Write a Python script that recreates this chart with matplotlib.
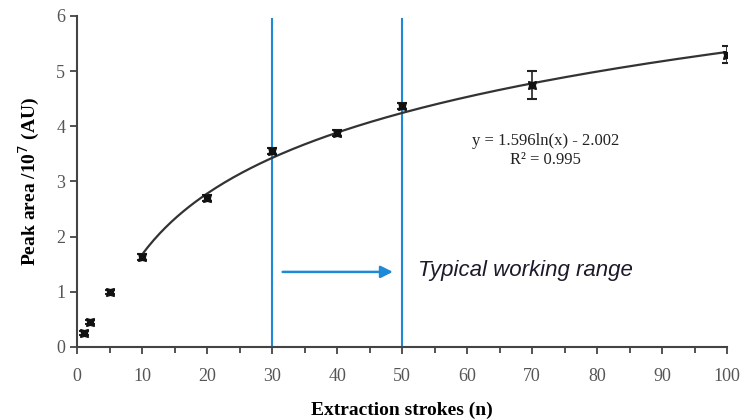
import numpy as np
import matplotlib.pyplot as plt

# extraction strokes vs mean peak area (x10^7 AU)
strokes = [1, 2, 5, 10, 20, 30, 40, 50, 70, 100]
peak_area = [0.25, 0.45, 1.0, 1.63, 2.7, 3.55, 3.88, 4.37, 4.75, 5.3]
peak_err = [0.04, 0.04, 0.04, 0.05, 0.05, 0.05, 0.05, 0.06, 0.25, 0.15]

# log fit over 10..100 strokes
fit_a = 1.596
fit_b = -2.002
fit_r2 = 0.995

range_lo, range_hi = 30, 50

plt.rcParams['font.family'] = 'Liberation Serif'
fig = plt.figure(figsize=(7.44, 4.2), dpi=100)
ax = fig.add_axes([0.1035, 0.174, 0.874, 0.788])

xf = np.linspace(10, 100, 200)
ax.plot(xf, fit_a*np.log(xf) + fit_b, color='#333333', lw=1.6, zorder=2)

ax.errorbar(strokes, peak_area, yerr=peak_err, fmt='none', ecolor='#222222',
            elinewidth=1.2, capsize=3.5, capthick=1.5, zorder=3)
ax.plot(strokes, peak_area, ls='none', marker=(4, 1, 45), ms=8,
        color='#111111', zorder=4)

blue = '#1e8ad6'
for xv in (range_lo, range_hi):
    ax.plot([xv, xv], [0, 5.95], color=blue, lw=1.5, zorder=1)

ax.annotate('', xy=(range_hi - 1.0, 1.36), xytext=(range_lo + 1.2, 1.36),
            arrowprops=dict(arrowstyle='-|>', color=blue, lw=1.8,
                            mutation_scale=18))
ax.text(52.5, 1.38, 'Typical working range', fontsize=16, style='italic',
        family='Liberation Sans', color='#1a1a2a', va='center', ha='left')

ax.text(72, 3.73, 'y = %.3fln(x) - %.3f' % (fit_a, -fit_b), fontsize=12,
        ha='center', va='center', color='#222222')
ax.text(72, 3.38, 'R² = %.3f' % fit_r2, fontsize=12, ha='center',
        va='center', color='#222222')

ax.set_xlim(0, 100)
ax.set_ylim(0, 6)
ax.set_xticks(range(0, 101, 10))
ax.set_xticks(range(5, 100, 10), minor=True)
ax.set_yticks(range(0, 7))
ax.spines['top'].set_visible(False)
ax.spines['right'].set_visible(False)
for s in ('left', 'bottom'):
    ax.spines[s].set_color('#444444')
    ax.spines[s].set_linewidth(1.5)
ax.tick_params(which='both', direction='out', color='#444444', width=1.3,
               labelsize=13, labelcolor='#555555')
ax.tick_params(which='major', length=5)
ax.tick_params(which='minor', length=4)
ax.tick_params(axis='x', pad=10)

ax.set_xlabel('Extraction strokes (n)', fontsize=14, fontweight='bold', labelpad=12)
ax.set_ylabel('Peak area /10$^7$ (AU)', fontsize=14, fontweight='bold', labelpad=10)

fig.savefig('out.png', dpi=100)
